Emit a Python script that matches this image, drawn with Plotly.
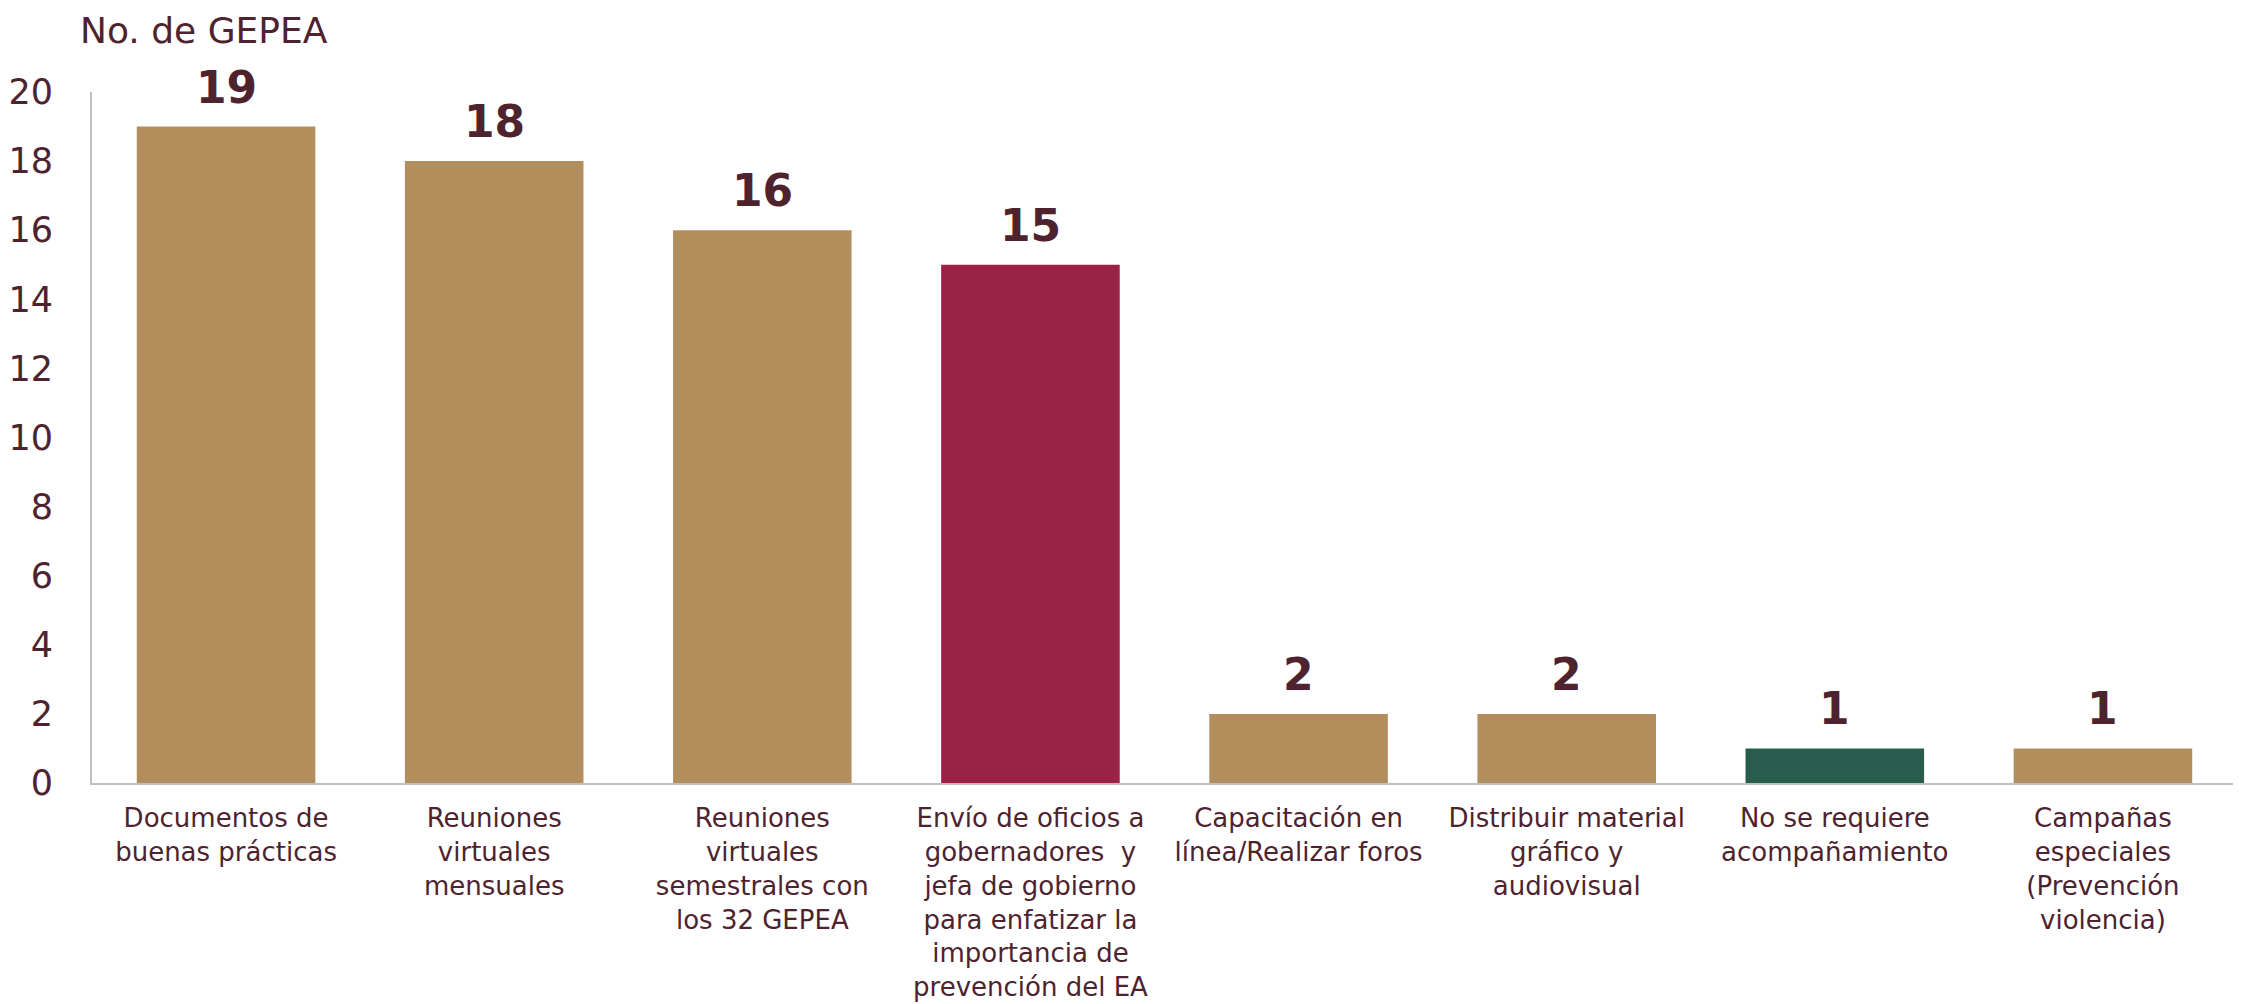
import plotly.graph_objects as go

categories = [
    "Documentos de<br>buenas prácticas",
    "Reuniones<br>virtuales<br>mensuales",
    "Reuniones<br>virtuales<br>semestrales con<br>los 32 GEPEA",
    "Envío de oficios a<br>gobernadores  y<br>jefa de gobierno<br>para enfatizar la<br>importancia de<br>prevención del EA",
    "Capacitación en<br>línea/Realizar foros",
    "Distribuir material<br>gráfico y<br>audiovisual",
    "No se requiere<br>acompañamiento",
    "Campañas<br>especiales<br>(Prevención<br>violencia)",
]
values = [19, 18, 16, 15, 2, 2, 1, 1]
bar_colors = ["#B28E5C", "#B28E5C", "#B28E5C", "#9B2247", "#B28E5C", "#B28E5C", "#285C4D", "#B28E5C"]
y_ticks = [0, 2, 4, 6, 8, 10, 12, 14, 16, 18, 20]
y_title = "No. de GEPEA"

TEXT = "#4E232E"
FONT = "DejaVu Sans, sans-serif"

fig = go.Figure(go.Bar(
    x=categories,
    y=values,
    marker=dict(color=bar_colors, line=dict(width=0)),
    width=0.666,
    hoverinfo="x+y",
))

for c, v in zip(categories, values):
    fig.add_annotation(
        x=c, y=v, text=str(v), showarrow=False,
        xanchor="center", yanchor="bottom", yshift=12,
        font=dict(family=FONT, size=44, color=TEXT, weight="bold"),
    )

fig.add_annotation(
    text=y_title, xref="paper", yref="paper", x=-0.006, y=1.12,
    xanchor="left", yanchor="top", showarrow=False, borderpad=0,
    font=dict(family=FONT, size=36, color=TEXT),
)

fig.update_layout(
    width=2233,
    height=996,
    margin=dict(l=84, r=4, t=84, b=221),
    paper_bgcolor="white",
    plot_bgcolor="white",
    showlegend=False,
    font=dict(family=FONT, color=TEXT),
    xaxis=dict(
        showline=True, linecolor="#BFBFBF", linewidth=2,
        showgrid=False, ticks="", tickfont=dict(size=26, color=TEXT),
        tickangle=0, ticklabelstandoff=11, automargin=False,
    ),
    yaxis=dict(
        range=[0, 20], tickvals=y_ticks, showline=True, linecolor="#BFBFBF", linewidth=2,
        showgrid=False, zeroline=False, ticks="", tickfont=dict(size=35, color=TEXT),
        ticklabelstandoff=30, automargin=False,
    ),
)

fig.write_html("out.html")
